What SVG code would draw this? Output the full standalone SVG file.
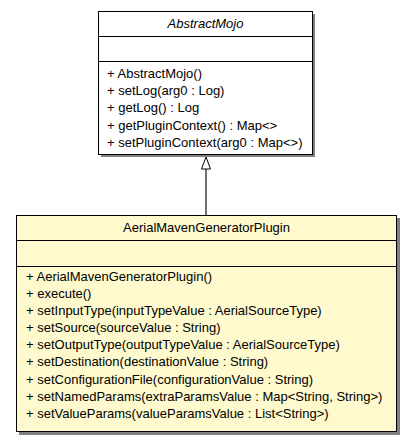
<svg xmlns="http://www.w3.org/2000/svg" width="412" height="440" viewBox="0 0 412 440">
  <style>
    .shadow { fill: #808080; }
    .box { stroke: #000; stroke-width: 1; }
    .plain { fill: #fff; }
    .hl { fill: #fffacd; }
    .sep { stroke: #000; stroke-width: 1; }
    text { font-family: "Liberation Sans", Arial, sans-serif; font-size: 13px; fill: #000; }
    .title { text-anchor: middle; }
    .abstract { font-style: italic; }
    .edge { stroke: #404040; stroke-width: 1.5; fill: none; }
    .head { fill: #fff; stroke: #000; stroke-width: 1; }
  </style>

  <rect width="412" height="440" fill="#fff"/>

  <g id="connectors">
    <line class="edge" x1="206" y1="215" x2="206" y2="169"/>
    <polygon class="head" points="206,157 210.5,169 201.5,169"/>
  </g>

  <g id="AbstractMojo">
    <rect class="shadow" x="101" y="14" width="214" height="143"/>
    <rect class="box plain" x="98.5" y="11.5" width="214" height="143"/>
    <line class="sep" x1="98.5" y1="36.5" x2="312.5" y2="36.5"/>
    <line class="sep" x1="98.5" y1="61.5" x2="312.5" y2="61.5"/>
    <text class="title abstract" x="205.5" y="28">AbstractMojo</text>
    <text x="107" y="78">+ AbstractMojo()</text>
    <text x="107" y="95">+ setLog(arg0 : Log)</text>
    <text x="107" y="112">+ getLog() : Log</text>
    <text x="107" y="130">+ getPluginContext() : Map&lt;&gt;</text>
    <text x="107" y="147">+ setPluginContext(arg0 : Map&lt;&gt;)</text>
  </g>

  <g id="AerialMavenGeneratorPlugin">
    <rect class="shadow" x="19" y="218" width="381" height="217"/>
    <rect class="box hl" x="16.5" y="215.5" width="380" height="216"/>
    <line class="sep" x1="16.5" y1="240.5" x2="396.5" y2="240.5"/>
    <line class="sep" x1="16.5" y1="266.5" x2="396.5" y2="266.5"/>
    <text class="title" x="206.5" y="232">AerialMavenGeneratorPlugin</text>
    <text x="26" y="281">+ AerialMavenGeneratorPlugin()</text>
    <text x="26" y="298">+ execute()</text>
    <text x="26" y="315">+ setInputType(inputTypeValue : AerialSourceType)</text>
    <text x="26" y="332">+ setSource(sourceValue : String)</text>
    <text x="26" y="349">+ setOutputType(outputTypeValue : AerialSourceType)</text>
    <text x="26" y="366">+ setDestination(destinationValue : String)</text>
    <text x="26" y="384">+ setConfigurationFile(configurationValue : String)</text>
    <text x="26" y="401">+ setNamedParams(extraParamsValue : Map&lt;String, String&gt;)</text>
    <text x="26" y="418">+ setValueParams(valueParamsValue : List&lt;String&gt;)</text>
  </g>
</svg>
